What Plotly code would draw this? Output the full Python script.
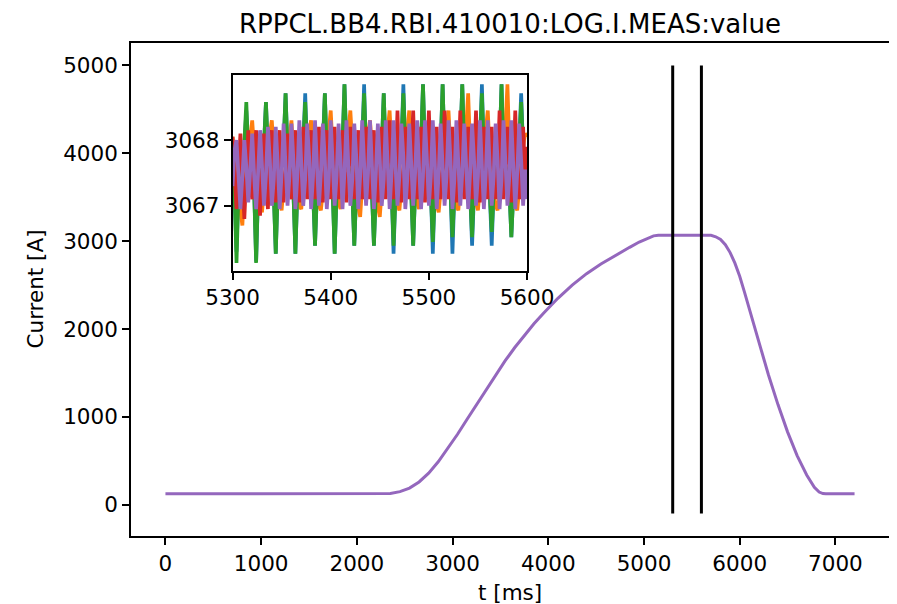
import plotly.graph_objects as go

# ---------------- main curve (all cycles overlap; purple drawn on top) ----------------
t_main = [0, 500, 1000, 1500, 2000, 2250, 2350, 2450, 2550, 2650, 2750, 2850, 2950, 3050,
          3150, 3250, 3350, 3450, 3550, 3650, 3750, 3850, 3950, 4100, 4250, 4400, 4550,
          4700, 4850, 4950, 5050, 5100, 5150, 5300, 5600, 5700, 5750, 5800, 5850, 5900,
          5950, 6000, 6050, 6100, 6200, 6300, 6400, 6500, 6600, 6700, 6780, 6830, 6870,
          6900, 7000, 7200]
i_main = [125, 125, 125, 125, 125, 125, 130, 150, 190, 260, 360, 490, 640, 800,
          970, 1140, 1310, 1480, 1640, 1790, 1930, 2060, 2180, 2350, 2500, 2630, 2740,
          2840, 2930, 2990, 3040, 3060, 3068, 3068, 3068, 3066, 3050, 3020, 2960, 2870,
          2750, 2600, 2420, 2230, 1850, 1480, 1140, 830, 560, 340, 200, 145, 128,
          125, 125, 125]

# vertical markers
vline_t = [5300, 5600]
vline_i = [-100, 5000]

# ---------------- inset samples (2 ms spacing, 5300..5600) ----------------
t_inset = list(range(5300, 5601, 2))

blue = [
    3067.45, 3067.20, 3066.30, 3067.25, 3067.50, 3067.70, 3067.90, 3068.45, 3067.80, 3067.60,
    3067.50, 3067.25, 3066.15, 3067.20, 3067.45, 3067.70, 3067.95, 3068.58, 3067.80, 3067.55,
    3067.45, 3067.20, 3066.27, 3067.25, 3067.45, 3067.65, 3067.90, 3068.71, 3067.85, 3067.60,
    3067.40, 3067.20, 3066.27, 3067.20, 3067.50, 3067.70, 3067.95, 3068.71, 3067.80, 3067.55,
    3067.45, 3067.20, 3066.39, 3067.25, 3067.45, 3067.70, 3067.95, 3068.71, 3067.80, 3067.60,
    3067.50, 3067.25, 3066.27, 3067.20, 3067.45, 3067.75, 3067.90, 3068.85, 3067.85, 3067.55,
    3067.45, 3067.20, 3066.39, 3067.20, 3067.50, 3067.70, 3067.95, 3068.85, 3067.80, 3067.60,
    3067.45, 3067.20, 3066.39, 3067.25, 3067.45, 3067.70, 3067.90, 3068.71, 3067.80, 3067.55,
    3067.40, 3067.25, 3066.27, 3067.20, 3067.45, 3067.65, 3067.95, 3068.85, 3067.85, 3067.60,
    3067.45, 3067.20, 3066.39, 3067.20, 3067.50, 3067.70, 3067.95, 3068.85, 3067.80, 3067.55,
    3067.50, 3067.20, 3066.27, 3067.25, 3067.45, 3067.70, 3067.90, 3068.85, 3067.80, 3067.60,
    3067.45, 3067.25, 3066.27, 3067.20, 3067.45, 3067.75, 3067.95, 3068.85, 3067.85, 3067.55,
    3067.45, 3067.20, 3066.39, 3067.20, 3067.50, 3067.70, 3067.95, 3068.85, 3067.80, 3067.60,
    3067.40, 3067.20, 3066.39, 3067.25, 3067.45, 3067.70, 3067.90, 3068.85, 3067.80, 3067.55,
    3067.45, 3067.25, 3066.52, 3067.20, 3067.45, 3067.65, 3067.95, 3068.71, 3067.85, 3067.60,
    3067.50]

orange = [
    3068.05, 3067.80, 3067.45, 3067.15, 3066.95, 3066.70, 3067.30, 3067.55, 3067.90, 3068.15,
    3068.30, 3067.85, 3067.50, 3067.20, 3067.00, 3066.90, 3067.25, 3067.60, 3067.90, 3068.10,
    3068.30, 3067.80, 3067.45, 3067.20, 3067.05, 3066.93, 3067.30, 3067.55, 3067.85, 3068.10,
    3068.30, 3067.75, 3067.45, 3067.15, 3067.00, 3066.95, 3067.30, 3067.60, 3067.90, 3068.15,
    3068.30, 3067.80, 3067.50, 3067.20, 3067.00, 3066.93, 3067.25, 3067.55, 3067.90, 3068.10,
    3068.45, 3067.85, 3067.45, 3067.20, 3067.05, 3066.95, 3067.30, 3067.55, 3067.85, 3068.15,
    3068.45, 3067.80, 3067.40, 3067.15, 3066.95, 3066.83, 3067.30, 3067.60, 3067.90, 3068.10,
    3068.30, 3067.80, 3067.45, 3067.15, 3066.95, 3066.83, 3067.25, 3067.55, 3067.90, 3068.15,
    3068.45, 3067.85, 3067.50, 3067.20, 3067.00, 3066.93, 3067.30, 3067.60, 3067.85, 3068.10,
    3068.45, 3067.80, 3067.45, 3067.20, 3067.05, 3066.95, 3067.30, 3067.55, 3067.90, 3068.15,
    3068.30, 3067.80, 3067.45, 3067.15, 3067.00, 3066.90, 3067.25, 3067.60, 3067.90, 3068.10,
    3068.45, 3067.85, 3067.50, 3067.20, 3067.00, 3066.93, 3067.30, 3067.55, 3067.85, 3068.20,
    3068.71, 3067.90, 3067.45, 3067.20, 3067.05, 3066.93, 3067.30, 3067.60, 3067.90, 3068.15,
    3068.45, 3067.80, 3067.45, 3067.15, 3067.00, 3066.93, 3067.25, 3067.55, 3067.90, 3068.20,
    3068.85, 3067.90, 3067.50, 3067.20, 3067.00, 3066.93, 3067.30, 3067.60, 3067.90, 3068.10,
    3068.05]

green = [
    3067.50, 3067.25, 3066.13, 3067.20, 3067.45, 3067.70, 3067.95, 3068.58, 3067.80, 3067.55,
    3067.45, 3067.20, 3066.13, 3067.25, 3067.45, 3067.65, 3067.90, 3068.58, 3067.85, 3067.60,
    3067.40, 3067.15, 3066.27, 3067.20, 3067.50, 3067.70, 3067.95, 3068.71, 3067.80, 3067.55,
    3067.45, 3067.20, 3066.27, 3067.25, 3067.45, 3067.75, 3067.95, 3068.58, 3067.75, 3067.60,
    3067.45, 3067.25, 3066.39, 3067.20, 3067.50, 3067.70, 3067.90, 3068.71, 3067.80, 3067.55,
    3067.50, 3067.20, 3066.27, 3067.20, 3067.45, 3067.70, 3067.95, 3068.85, 3067.85, 3067.60,
    3067.45, 3067.20, 3066.39, 3067.25, 3067.45, 3067.65, 3067.95, 3068.71, 3067.80, 3067.55,
    3067.40, 3067.20, 3066.39, 3067.20, 3067.50, 3067.70, 3067.90, 3068.71, 3067.80, 3067.60,
    3067.45, 3067.25, 3066.39, 3067.20, 3067.45, 3067.75, 3067.95, 3068.71, 3067.85, 3067.55,
    3067.50, 3067.20, 3066.39, 3067.25, 3067.45, 3067.70, 3067.95, 3068.85, 3067.80, 3067.60,
    3067.45, 3067.20, 3066.45, 3067.20, 3067.50, 3067.70, 3067.90, 3068.85, 3067.80, 3067.55,
    3067.45, 3067.25, 3066.52, 3067.20, 3067.45, 3067.65, 3067.95, 3068.85, 3067.85, 3067.60,
    3067.40, 3067.20, 3066.52, 3067.25, 3067.45, 3067.70, 3067.95, 3068.71, 3067.80, 3067.55,
    3067.45, 3067.20, 3066.60, 3067.20, 3067.50, 3067.75, 3067.90, 3068.85, 3067.80, 3067.60,
    3067.50, 3067.25, 3066.52, 3067.20, 3067.45, 3067.70, 3067.95, 3068.58, 3067.85, 3067.55,
    3067.45]

red = [
    3068.05, 3067.50, 3066.95, 3067.55, 3068.10, 3067.40, 3066.80, 3067.50, 3068.15, 3067.35,
    3067.10, 3067.60, 3068.15, 3067.45, 3066.85, 3067.55, 3068.10, 3067.40, 3066.95, 3067.60,
    3068.15, 3067.50, 3067.05, 3067.60, 3068.15, 3067.45, 3067.05, 3067.55, 3068.10, 3067.35,
    3067.10, 3067.65, 3068.15, 3067.50, 3067.05, 3067.60, 3068.20, 3067.40, 3067.10, 3067.65,
    3068.15, 3067.45, 3067.10, 3067.60, 3068.20, 3067.50, 3067.05, 3067.55, 3068.15, 3067.40,
    3067.10, 3067.70, 3068.20, 3067.45, 3067.10, 3067.60, 3068.15, 3067.40, 3067.05, 3067.65,
    3068.20, 3067.50, 3067.10, 3067.55, 3068.15, 3067.45, 3067.10, 3067.60, 3068.20, 3067.40,
    3067.10, 3067.65, 3068.15, 3067.50, 3067.05, 3067.60, 3068.20, 3067.45, 3067.10, 3067.70,
    3068.30, 3067.50, 3067.10, 3067.60, 3068.45, 3067.45, 3067.05, 3067.55, 3068.20, 3067.40,
    3067.10, 3067.70, 3068.45, 3067.50, 3067.10, 3067.60, 3068.20, 3067.45, 3067.05, 3067.65,
    3068.45, 3067.50, 3067.10, 3067.55, 3068.20, 3067.40, 3067.10, 3067.60, 3068.45, 3067.45,
    3067.10, 3067.70, 3068.20, 3067.45, 3067.05, 3067.60, 3068.45, 3067.50, 3067.10, 3067.65,
    3068.20, 3067.50, 3067.10, 3067.60, 3068.45, 3067.45, 3067.05, 3067.55, 3068.20, 3067.40,
    3067.10, 3067.65, 3068.20, 3067.50, 3067.10, 3067.60, 3068.45, 3067.45, 3067.10, 3067.70,
    3068.20, 3067.50, 3067.05, 3067.60, 3068.45, 3067.45, 3067.10, 3067.55, 3068.20, 3067.40,
    3067.90]

purple = [
    3067.30, 3067.85, 3068.00, 3067.40, 3066.95, 3067.45, 3068.00, 3067.60, 3067.05, 3067.55,
    3068.10, 3067.45, 3066.95, 3067.50, 3068.15, 3067.60, 3067.00, 3067.45, 3068.20, 3067.70,
    3067.00, 3067.40, 3068.20, 3067.65, 3066.95, 3067.50, 3068.25, 3067.60, 3067.00, 3067.45,
    3068.25, 3067.70, 3066.95, 3067.45, 3068.30, 3067.65, 3067.00, 3067.40, 3068.25, 3067.75,
    3066.95, 3067.45, 3068.30, 3067.60, 3067.00, 3067.50, 3068.25, 3067.70, 3066.95, 3067.40,
    3068.30, 3067.65, 3067.00, 3067.45, 3068.25, 3067.70, 3066.95, 3067.50, 3068.30, 3067.60,
    3067.00, 3067.40, 3068.25, 3067.75, 3066.95, 3067.45, 3068.30, 3067.65, 3067.00, 3067.50,
    3068.30, 3067.60, 3066.95, 3067.50, 3068.25, 3067.70, 3067.00, 3067.40, 3068.30, 3067.65,
    3066.95, 3067.50, 3068.30, 3067.60, 3067.00, 3067.45, 3068.25, 3067.75, 3066.95, 3067.40,
    3068.25, 3067.65, 3067.00, 3067.50, 3068.30, 3067.60, 3066.95, 3067.45, 3068.30, 3067.70,
    3067.00, 3067.45, 3068.30, 3067.65, 3066.95, 3067.50, 3068.25, 3067.60, 3067.00, 3067.45,
    3068.30, 3067.70, 3066.95, 3067.40, 3068.30, 3067.65, 3067.00, 3067.50, 3068.25, 3067.60,
    3066.95, 3067.50, 3068.25, 3067.70, 3067.00, 3067.45, 3068.30, 3067.60, 3066.95, 3067.50,
    3068.30, 3067.60, 3067.00, 3067.45, 3068.25, 3067.70, 3066.95, 3067.40, 3068.30, 3067.65,
    3067.00, 3067.45, 3068.30, 3067.60, 3066.95, 3067.50, 3068.25, 3067.70, 3067.00, 3067.55,
    3067.10]

series_names = ["cycle 1", "cycle 2", "cycle 3", "cycle 4", "cycle 5"]
series_colors = ["#1f77b4", "#ff7f0e", "#2ca02c", "#d62728", "#9467bd"]
inset_series = [blue, orange, green, red, purple]

main_ticks = [0, 1000, 2000, 3000, 4000, 5000, 6000, 7000]
main_yticks = [0, 1000, 2000, 3000, 4000, 5000]
inset_xticks = [5300, 5400, 5500, 5600]
inset_yticks = [3067, 3068]

FONT = "DejaVu Sans"
FS = 21.5
OFF = 8                      # page body margin added by the browser
W, H = 897 - OFF, 604 - OFF
ML, MR, MT, MB = 131 - OFF, 8, 43 - OFF, 68
fig = go.Figure()

fig.add_trace(go.Scatter(x=t_main, y=i_main, mode="lines",
                         line=dict(color=series_colors[4], width=3),
                         xaxis="x", yaxis="y", showlegend=False, hoverinfo="skip"))
for tv in vline_t:
    fig.add_trace(go.Scatter(x=[tv, tv], y=vline_i, mode="lines",
                             line=dict(color="black", width=3),
                             xaxis="x", yaxis="y", showlegend=False, hoverinfo="skip"))

for name, col, ys in zip(series_names, series_colors, inset_series):
    fig.add_trace(go.Scatter(x=t_inset, y=ys, mode="lines", name=name,
                             line=dict(color=col, width=3.7),
                             xaxis="x2", yaxis="y2", showlegend=False, hoverinfo="skip"))

axis_common = dict(showline=True, linecolor="black", linewidth=1.6, mirror=True,
                   ticks="outside", ticklen=7, tickwidth=1.6, tickcolor="black",
                   showgrid=False, zeroline=False, automargin=False,
                   tickfont=dict(family=FONT, size=FS, color="black"))

pw = W - ML - MR
ph = H - MT - MB

fig.update_layout(
    width=W, height=H,
    margin=dict(l=ML, r=MR, t=MT, b=MB, autoexpand=False),
    paper_bgcolor="white", plot_bgcolor="white",
    font=dict(family=FONT, color="black"),
    title=dict(text="RPPCL.BB4.RBI.410010:LOG.I.MEAS:value",
               font=dict(family=FONT, size=26, color="black"),
               x=(ML + W - MR) / 2 / W, xref="container", xanchor="center",
               y=1 - (24 - OFF) / H, yref="container", yanchor="middle"),
    xaxis=dict(domain=[0, 1], range=[-360, 7560], tickvals=main_ticks, anchor="y", **axis_common),
    yaxis=dict(domain=[0, 1], range=[-355, 5255], tickvals=main_yticks, anchor="x", **axis_common),
    xaxis2=dict(domain=[0.134, 0.5225], range=[5300, 5600], tickvals=inset_xticks, anchor="y2",
                **axis_common),
    yaxis2=dict(domain=[0.538, 0.935], range=[3066.01, 3068.99], tickvals=inset_yticks, anchor="x2",
                **axis_common),
    annotations=[
        dict(text="t [ms]", xref="paper", yref="paper", x=0.5,
             y=-(592 - OFF - (H - MB)) / ph, xanchor="center", yanchor="middle", showarrow=False,
             font=dict(family=FONT, size=FS, color="black")),
        dict(text="Current [A]", xref="paper", yref="paper", x=-(ML - (35 - OFF)) / pw,
             y=0.5, xanchor="center", yanchor="middle", showarrow=False, textangle=-90,
             font=dict(family=FONT, size=FS, color="black")),
    ],
)

fig.write_html("out.html")
